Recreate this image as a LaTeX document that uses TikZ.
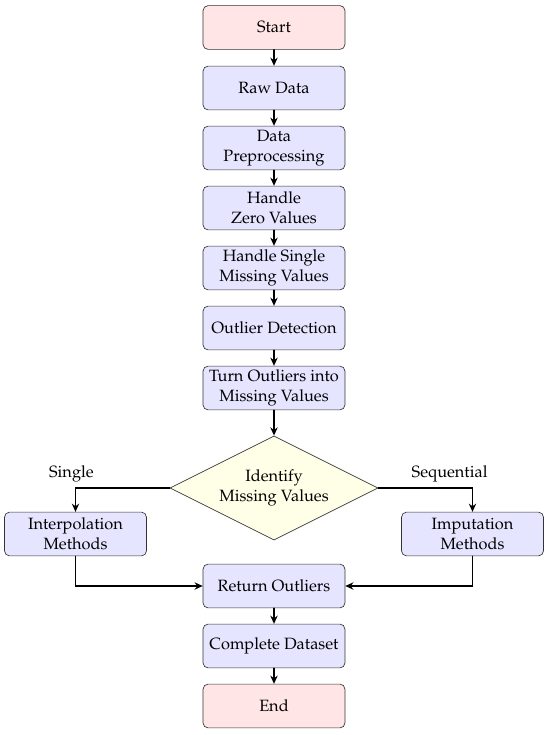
\documentclass[tikz,border=0pt]{standalone}
\usepackage[T1]{fontenc}
\usepackage{mathpazo}
\usepackage{tikz}
\usetikzlibrary{shapes.geometric, arrows.meta}

\begin{document}
\begin{tikzpicture}
		[x=0.0215cm,y=-0.0215cm,line cap=round,
		%Styles
		process/.style={rectangle,rounded corners=3pt,draw=black!80,fill=blue!10,
			minimum width=3.05cm,minimum height=0.94cm,inner sep=2pt,align=center},
		terminal/.style={process,fill=red!10},
		decision/.style={diamond,aspect=2,draw=black!80,fill=yellow!10,minimum width=4.47cm,
			minimum height=2.24cm,inner sep=0pt,align=center},
		arrow/.style={thick,-{Stealth[length=5pt,width=4.5pt]}}
		]
		
		%Page frame
		\useasboundingbox (0,0) rectangle (550,735);
		
		%The graphic
		\node[terminal] (start) at (274, 27.5) {Start};
		\node[process] (raw) at (274, 88) {Raw Data};
		\node[process] (prep) at (274, 148) {Data\\Preprocessing};
		\node[process] (zero) at (274, 208) {Handle\\Zero Values};
		\node[process] (single) at (274, 268) {Handle Single\\Missing Values};
		\node[process] (detect) at (274, 328) {Outlier Detection};
		\node[process] (turn) at (274, 388) {Turn Outliers into\\Missing Values};
		\node[decision] (identify) at (274, 488) {Identify\\Missing Values};
		\node[process] (interp) at (75.5, 534) {Interpolation\\Methods};
		\node[process] (imput) at (472.5, 534) {Imputation\\Methods};
		\node[process] (return) at (274, 586) {Return Outliers};
		\node[process] (complete) at (274, 646) {Complete Dataset};
		\node[terminal] (end) at (274, 706) {End};
		
		\draw[arrow] (start) -- (raw);
		\draw[arrow] (raw) -- (prep);
		\draw[arrow] (prep) -- (zero);
		\draw[arrow] (zero) -- (single);
		\draw[arrow] (single) -- (detect);
		\draw[arrow] (detect) -- (turn);
		\draw[arrow] (turn) -- (identify);
		
		\draw[arrow] (identify.west) -| node[above,xshift=-2.5pt] {Single} (interp.north);
		\draw[arrow] (identify.east) -| node[above,xshift=-14pt] {Sequential} (imput.north);
		
		\draw[arrow] (interp.south) |- (return.west);
		\draw[arrow] (imput.south) |- (return.east);
		
		\draw[arrow] (return) -- (complete);
		\draw[arrow] (complete) -- (end);
	\end{tikzpicture}
\end{document}
